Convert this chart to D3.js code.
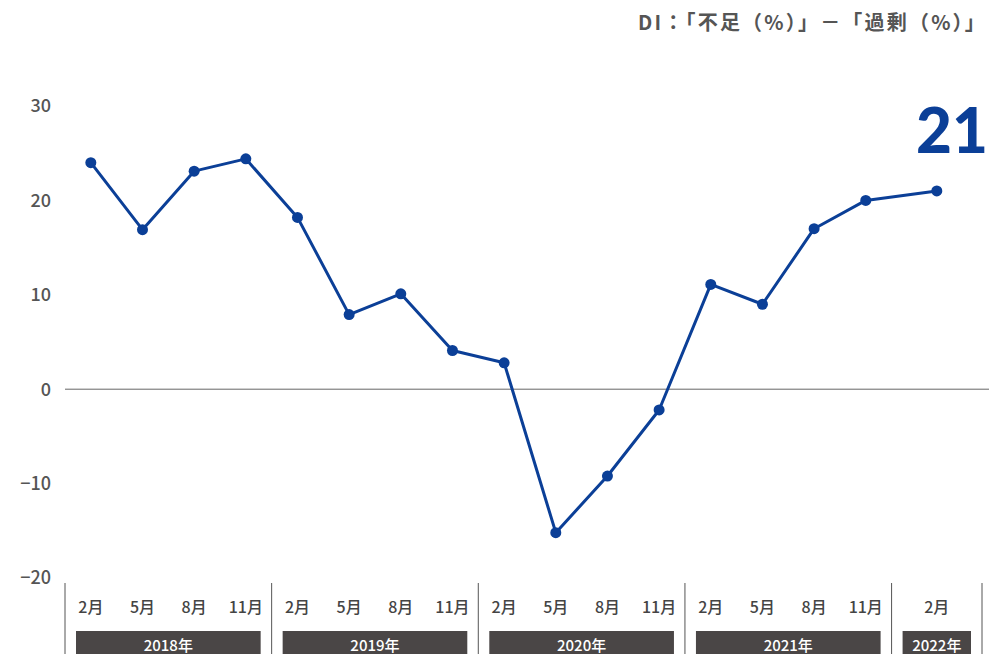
<!DOCTYPE html>
<html>
<head>
<meta charset="utf-8">
<script src="https://cdn.jsdelivr.net/npm/d3@7"></script>
<style>
  body { margin: 0; background: #fff; }
  svg { display: block; font-family: "Noto Sans CJK JP", "Noto Sans", sans-serif; }
</style>
</head>
<body>
<div id="chart"></div>
<script>
// data
var years = ["2018年", "2019年", "2020年", "2021年", "2022年"];
var months = [
  ["2月", "5月", "8月", "11月"],
  ["2月", "5月", "8月", "11月"],
  ["2月", "5月", "8月", "11月"],
  ["2月", "5月", "8月", "11月"],
  ["2月"]
];
var values = [24, 16.9, 23.1, 24.4, 18.2, 7.9, 10.1, 4.1, 2.8, -15.2, -9.2, -2.2, 11.1, 9, 17, 20, 21];
var yTicks = [30, 20, 10, 0, -10, -20];
var title = "DI：「不足（%）」－「過剰（%）」";
var lastLabel = "21";
// width of each year group in quarter slots (last group is wider)
var groupSlots = [4, 4, 4, 4, 1.75];

var W = 989, H = 654;
var svg = d3.select("#chart").append("svg")
  .attr("width", W).attr("height", H);

var totalSlots = d3.sum(groupSlots);
var x = d3.scaleLinear().domain([0, totalSlots]).range([65, 982]);
var y = d3.scaleLinear().domain([-20, 30]).range([578, 106]);

// build point positions from groups
var points = [];
var starts = [];
var acc = 0;
groupSlots.forEach(function(g, gi) {
  starts.push(acc);
  months[gi].forEach(function(m, mi) {
    var pos = (gi == 4) ? acc + g / 2 : acc + mi + 0.5;
    points.push({ pos: pos, label: m });
  });
  acc += g;
});
points.forEach(function(p, i) { p.v = values[i]; });

// title
svg.append("text")
  .attr("x", 987).attr("y", 30)
  .attr("text-anchor", "end")
  .attr("font-size", 20).attr("font-weight", "bold")
  .attr("letter-spacing", 2.2)
  .attr("fill", "#555")
  .text(title);

// y labels
svg.selectAll(".ytick").data(yTicks).enter().append("text")
  .attr("class", "ytick")
  .attr("x", 51).attr("y", function(d) { return y(d); })
  .attr("dy", "0.35em")
  .attr("text-anchor", "end")
  .attr("font-size", 18).attr("font-weight", 500)
  .attr("fill", "#555")
  .text(function(d) { return d < 0 ? "−" + Math.abs(d) : d; });

// zero line
svg.append("line")
  .attr("x1", 65).attr("x2", W)
  .attr("y1", y(0)).attr("y2", y(0))
  .attr("stroke", "#666").attr("stroke-width", 1);

// group separators
var seps = starts.concat([totalSlots]);
svg.selectAll(".sep").data(seps).enter().append("line")
  .attr("x1", function(d) { return x(d); })
  .attr("x2", function(d) { return x(d); })
  .attr("y1", 583).attr("y2", H)
  .attr("stroke", "#555").attr("stroke-width", 1);

// month labels
svg.selectAll(".mon").data(points).enter().append("text")
  .attr("x", function(d) { return x(d.pos); })
  .attr("y", 613)
  .attr("text-anchor", "middle")
  .attr("font-size", 16).attr("font-weight", 500)
  .attr("fill", "#444")
  .text(function(d) { return d.label; });

// year boxes
var yg = svg.selectAll(".yr").data(years).enter().append("g");
yg.append("rect")
  .attr("x", function(d, i) { return x(starts[i]) + 11; })
  .attr("width", function(d, i) { return x(starts[i] + groupSlots[i]) - x(starts[i]) - 22; })
  .attr("y", 631).attr("height", 30)
  .attr("fill", "#4a4646");
yg.append("text")
  .attr("x", function(d, i) { return x(starts[i] + groupSlots[i] / 2); })
  .attr("y", 651)
  .attr("text-anchor", "middle")
  .attr("font-size", 15).attr("font-weight", 500)
  .attr("fill", "#fff")
  .text(function(d) { return d; });

// line + dots
var line = d3.line()
  .x(function(d) { return x(d.pos); })
  .y(function(d) { return y(d.v); });

svg.append("path")
  .datum(points)
  .attr("d", line)
  .attr("fill", "none")
  .attr("stroke", "#0b3f97")
  .attr("stroke-width", 3)
  .attr("stroke-linejoin", "round");

svg.selectAll(".dot").data(points).enter().append("circle")
  .attr("cx", function(d) { return x(d.pos); })
  .attr("cy", function(d) { return y(d.v); })
  .attr("r", 5.5)
  .attr("fill", "#0b3f97");

// big last value
svg.append("text")
  .attr("x", 988).attr("y", 153)
  .attr("text-anchor", "end")
  .attr("font-size", 62).attr("font-weight", 900)
  .attr("font-family", "Lato, 'Noto Sans', sans-serif")
  .attr("fill", "#0b3f97")
  .text(lastLabel);
</script>
</body>
</html>
